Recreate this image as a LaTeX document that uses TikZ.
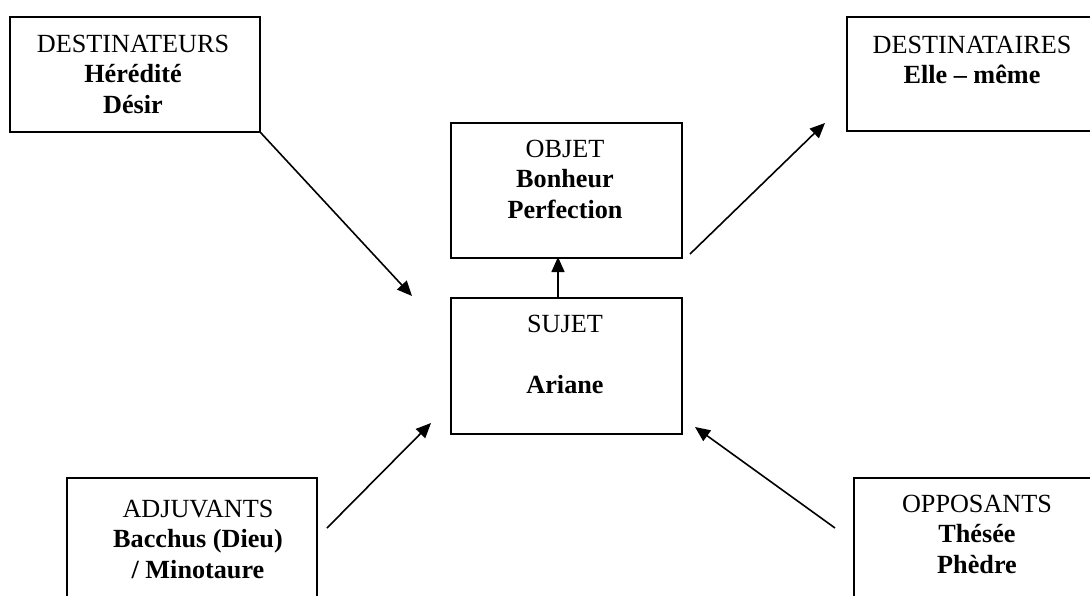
\documentclass[tikz,border=0pt]{standalone}
\usepackage{fontspec}
\setmainfont{Liberation Serif}
\usetikzlibrary{arrows.meta}
\begin{document}
\begin{tikzpicture}[x=1pt,y=-1pt,
  box/.style={draw, line width=1.7pt, anchor=north west, inner sep=0pt},
  lbl/.style={anchor=north, inner sep=0pt, align=center, font=\fontsize{26.2}{30.7}\selectfont},
  arr/.style={line width=1.6pt, -{Triangle[length=15pt,width=13pt]}}]
\useasboundingbox (0,0) rectangle (1090,595);
% boxes
\node[box, minimum width=250pt, minimum height=115pt] (dtr) at (9,16) {};
\node[box, minimum width=260pt, minimum height=114pt] (dta) at (846,16) {};
\node[box, minimum width=231pt, minimum height=135pt] (obj) at (450,122) {};
\node[box, minimum width=231pt, minimum height=136pt] (suj) at (450,297) {};
\node[box, minimum width=250pt, minimum height=140pt] (adj) at (66,477) {};
\node[box, minimum width=260pt, minimum height=140pt] (opp) at (853,477) {};
% texts (north = first baseline - 21.5)
\node[lbl] (tdtr) at (133,30.5) {\strut DESTINATEURS\\ \strut\textbf{Hérédité}\\ \strut\textbf{Désir}};
\node[lbl] (tdta) at (972,31.5) {\strut DESTINATAIRES\\ \strut\textbf{Elle – même}};
\node[lbl] (tobj) at (565,135.5) {\strut OBJET\\ \strut\textbf{Bonheur}\\ \strut\textbf{Perfection}};
\node[lbl] (tsuj) at (565,310.5) {\strut SUJET\\ \strut~\\ \strut\textbf{Ariane}};
\node[lbl] (tadj) at (198,495.5) {\strut ADJUVANTS\\ \strut\textbf{Bacchus (Dieu)}\\ \strut\textbf{/ Minotaure}};
\node[lbl] (topp) at (977,490.5) {\strut OPPOSANTS\\ \strut\textbf{Thésée}\\ \strut\textbf{Phèdre}};
% arrow end points
\coordinate (a1e) at (412,296);
\coordinate (a2s) at (690,254);
\coordinate (a2e) at (825,123);
\coordinate (a3s) at (327,528);
\coordinate (a3e) at (431,423);
\coordinate (a4s) at (835,528);
\coordinate (a4e) at (695,427);
\coordinate (a5s) at (558,297);
\coordinate (a5e) at (558,257);
\draw[arr] (dtr.south east) -- (a1e);
\draw[arr] (a2s) -- (a2e);
\draw[arr] (a3s) -- (a3e);
\draw[arr] (a4s) -- (a4e);
\draw[arr] (a5s) -- (a5e);
\end{tikzpicture}
\end{document}
